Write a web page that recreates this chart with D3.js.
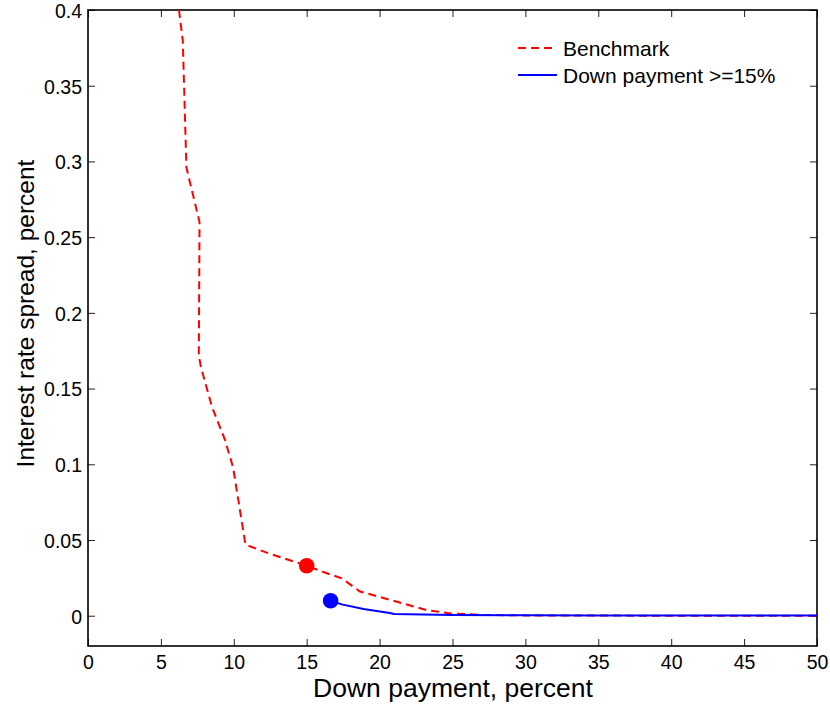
<!DOCTYPE html>
<html><head><meta charset="utf-8">
<script src="https://cdn.jsdelivr.net/npm/d3@7"></script>
<style>body{margin:0;background:#fff}text{font-family:"Liberation Sans",Arial,sans-serif}</style>
</head><body><svg id="c" width="830" height="704"></svg>
<script>
const benchX = [6.24, 6.5, 6.75, 7.65, 7.6, 7.75, 8.5, 9.4, 9.95, 10.8, 12.3, 15, 16.1, 17.4, 18.65, 21.2, 23.2, 24.8, 27.1, 30, 35, 40, 45, 50];
const benchY = [0.40, 0.38, 0.296, 0.26, 0.172, 0.164, 0.138, 0.116, 0.098, 0.047, 0.0415, 0.033, 0.029, 0.0247, 0.016, 0.0092, 0.0038, 0.0016, 0.0005, 0.0002, 0.0001, 0, 0, 0];
const dpX = [16.64, 17.4, 18.9, 20.7, 21.0, 23, 25, 30, 35, 40, 45, 50];
const dpY = [0.0099, 0.0075, 0.0044, 0.0018, 0.0012, 0.0008, 0.0005, 0.0003, 0.0002, 0.0001, 0.0001, 0.0001];
const benchMarker = [15, 0.033];
const dpMarker = [16.64, 0.0099];
const xTicks = [0, 5, 10, 15, 20, 25, 30, 35, 40, 45, 50];
const yTicks = [0, 0.05, 0.1, 0.15, 0.2, 0.25, 0.3, 0.35, 0.4];
const seriesNames = ["Benchmark", "Down payment >=15%"];

const L = 88, R = 817, T = 10, B = 646;
const svg = d3.select("#c");
const x = d3.scaleLinear().domain([0, 50]).range([L, R]);
const y = d3.scaleLinear().domain([-0.02, 0.4]).range([B, T]);

svg.append("defs").append("clipPath").attr("id", "clip")
  .append("rect").attr("x", L).attr("y", T).attr("width", R - L).attr("height", B - T);

const fmt = d => d === 0 ? "0" : String(+d.toFixed(2));
const fs = 19.5;
const gx = svg.append("g").attr("transform", `translate(0,${B})`)
  .call(d3.axisBottom(x).tickValues(xTicks).tickFormat(fmt).tickSizeInner(-7).tickSizeOuter(0).tickPadding(9.5));
const gxt = svg.append("g").attr("transform", `translate(0,${T})`)
  .call(d3.axisTop(x).tickValues(xTicks).tickFormat("").tickSizeInner(-7).tickSizeOuter(0));
const gy = svg.append("g").attr("transform", `translate(${L},0)`)
  .call(d3.axisLeft(y).tickValues(yTicks).tickFormat(fmt).tickSizeInner(-7).tickSizeOuter(0).tickPadding(6));
const gyr = svg.append("g").attr("transform", `translate(${R},0)`)
  .call(d3.axisRight(y).tickValues(yTicks).tickFormat("").tickSizeInner(-7).tickSizeOuter(0));
[gx, gxt, gy, gyr].forEach(g => {
  g.select(".domain").remove();
  g.selectAll(".tick line").attr("stroke", "#222").attr("stroke-width", 1);
  g.selectAll("text").attr("font-size", fs).attr("fill", "#000")
    .style("font-family", '"Liberation Sans", Arial, sans-serif');
});
gy.selectAll("text").attr("dy", "0.38em");
svg.append("rect").attr("x", L).attr("y", T).attr("width", R - L).attr("height", B - T)
  .attr("fill", "none").attr("stroke", "#000").attr("stroke-width", 1.6);

const plot = svg.append("g").attr("clip-path", "url(#clip)");
const line = d3.line().x(d => x(d[0])).y(d => y(d[1]));
plot.append("path").datum(d3.zip(benchX, benchY)).attr("d", line)
  .attr("fill", "none").attr("stroke", "#ff0000").attr("stroke-width", 2).attr("stroke-dasharray", "8,5");
plot.append("path").datum(d3.zip(dpX, dpY)).attr("d", line)
  .attr("fill", "none").attr("stroke", "#0000ff").attr("stroke-width", 2);
plot.append("circle").attr("cx", x(benchMarker[0])).attr("cy", y(benchMarker[1])).attr("r", 7.8).attr("fill", "#ff0000");
plot.append("circle").attr("cx", x(dpMarker[0])).attr("cy", y(dpMarker[1])).attr("r", 7.8).attr("fill", "#0000ff");

const leg = svg.append("g");
const legY = [48, 75];
const legStyle = [{c: "#ff0000", d: "8,5"}, {c: "#0000ff", d: null}];
seriesNames.forEach((n, i) => {
  leg.append("line").attr("x1", 518).attr("x2", 557).attr("y1", legY[i]).attr("y2", legY[i])
    .attr("stroke", legStyle[i].c).attr("stroke-width", 2).attr("stroke-dasharray", legStyle[i].d);
  leg.append("text").attr("x", 563).attr("y", legY[i] + 1).attr("dy", "0.35em")
    .attr("font-size", 21).text(n);
});

svg.append("text").attr("x", 453).attr("y", 697).attr("text-anchor", "middle")
  .attr("font-size", 26.5).text("Down payment, percent");
svg.append("text").attr("transform", `translate(34,313.5) rotate(-90)`).attr("text-anchor", "middle")
  .attr("font-size", 24.5).text("Interest rate spread, percent");
</script></body></html>
